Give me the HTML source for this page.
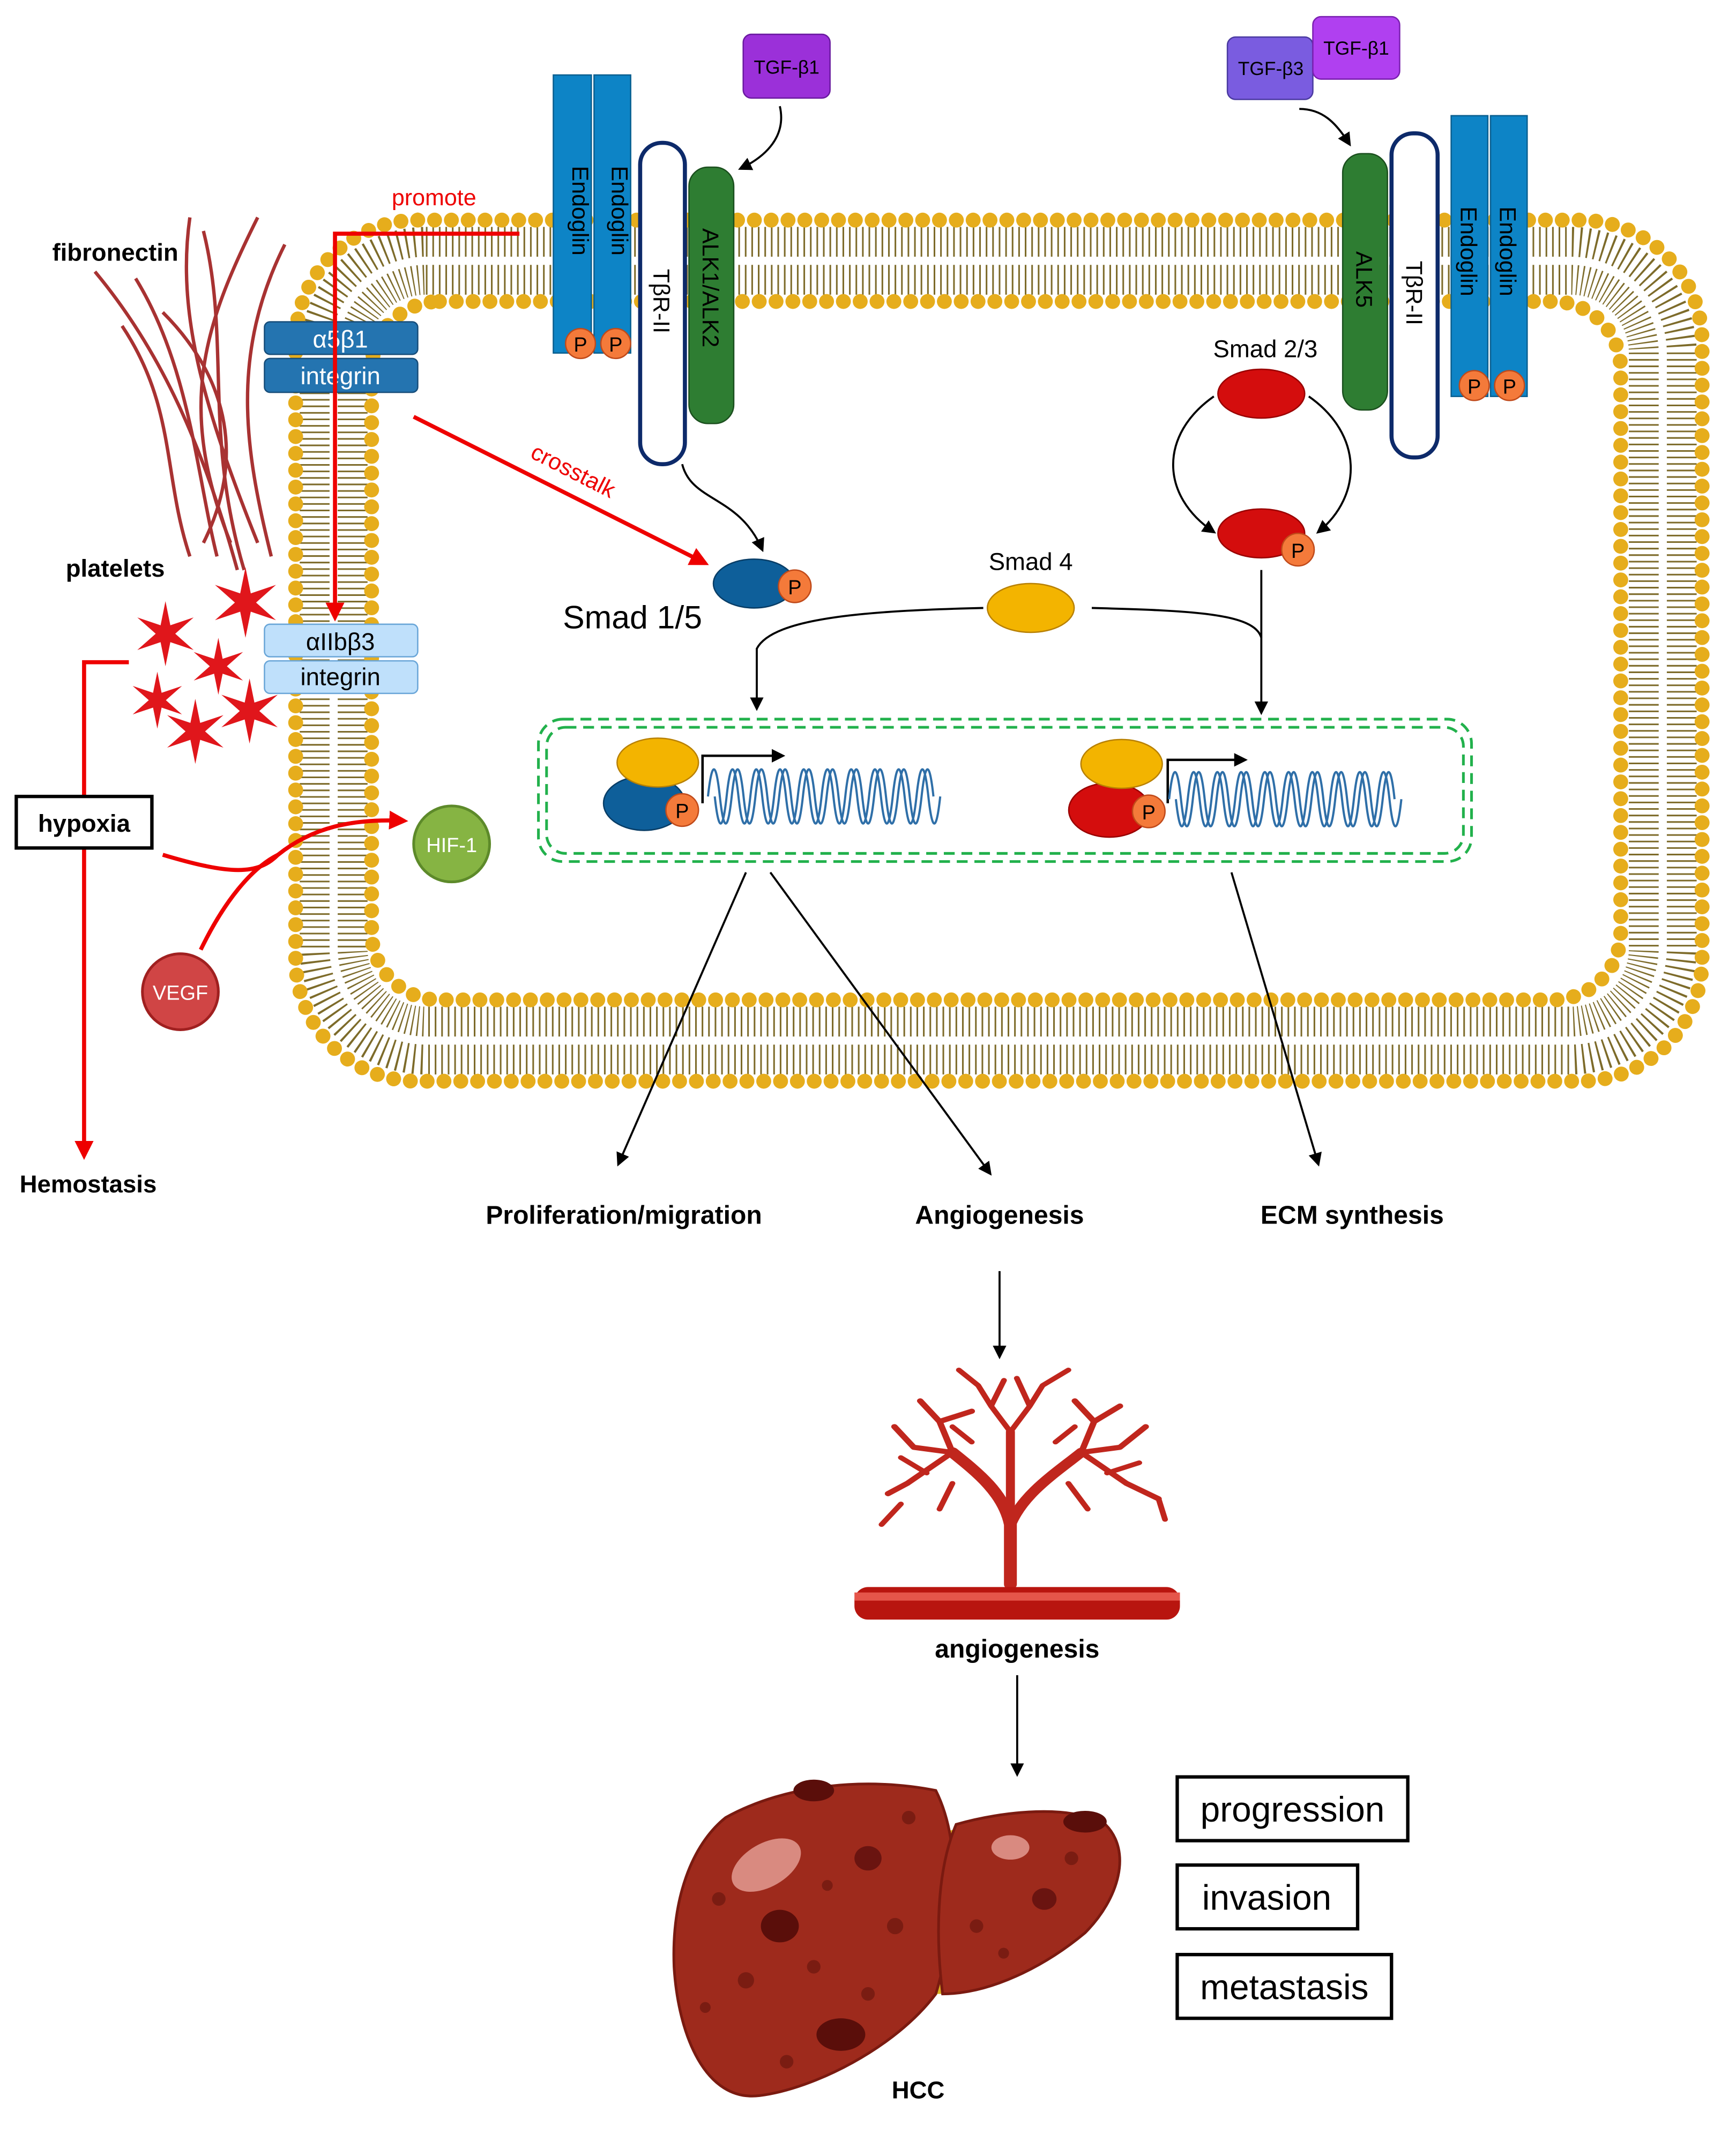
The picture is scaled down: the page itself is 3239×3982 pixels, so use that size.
<!DOCTYPE html>
<html><head><meta charset="utf-8"><style>
html,body{margin:0;padding:0;background:#fff}
svg{display:block}
text{font-family:"Liberation Sans",sans-serif}
</style></head><body>
<svg width="3239" height="3982" viewBox="0 0 1280 1573" xmlns="http://www.w3.org/2000/svg">
<defs>
<marker id="ak" markerWidth="10" markerHeight="10" refX="8" refY="5" orient="auto" markerUnits="userSpaceOnUse"><path d="M0,0 L10,5 L0,10 z" fill="#000"/></marker>
<marker id="ar" markerWidth="14" markerHeight="14" refX="11" refY="7" orient="auto" markerUnits="userSpaceOnUse"><path d="M0,0 L14,7 L0,14 z" fill="#e00"/></marker>
<symbol id="st" viewBox="-20 -20 40 40"><polygon points="0,-20 3,-5.2 17.3,-10 6,0 17.3,10 3,5.2 0,20 -3,5.2 -17.3,10 -6,0 -17.3,-10 -3,-5.2" fill="#e0161b"/></symbol>
</defs>
<rect width="1280" height="1573" fill="#fff"/>

<!-- membrane -->
<rect x="246" y="192" width="980" height="575" rx="68" fill="none" stroke="#7d6b2a" stroke-width="50" stroke-dasharray="1.2 3.6"/>
<rect x="246" y="192" width="980" height="575" rx="68" fill="none" stroke="#fff" stroke-width="6"/>
<rect x="218" y="162" width="1037" height="635" rx="90" fill="none" stroke="#e6ad1c" stroke-width="11" stroke-linecap="round" stroke-dasharray="0.01 12.4"/>
<rect x="274" y="222" width="921" height="515" rx="50" fill="none" stroke="#e6ad1c" stroke-width="11" stroke-linecap="round" stroke-dasharray="0.01 12.4"/>

<!-- fibronectin strands -->
<g fill="none" stroke="#a83232" stroke-width="2.5">
<path d="M70,200 C120,260 150,330 175,420"/>
<path d="M100,205 C140,270 145,350 160,410"/>
<path d="M140,160 C130,230 150,300 190,400"/>
<path d="M150,170 C170,250 150,320 180,420"/>
<path d="M190,160 C150,240 130,300 170,400"/>
<path d="M210,180 C170,260 180,330 200,410"/>
<path d="M120,230 C170,280 180,340 150,400"/>
<path d="M90,240 C130,300 120,350 140,410"/>
</g>
<text x="85" y="192" font-size="18" font-weight="bold" text-anchor="middle">fibronectin</text>

<!-- integrins -->
<rect x="195" y="237" width="113" height="24" rx="4" fill="#2474b0" stroke="#164d7a"/>
<rect x="195" y="264" width="113" height="25" rx="4" fill="#2474b0" stroke="#164d7a"/>
<text x="251" y="256" font-size="18" fill="#fff" text-anchor="middle">α5β1</text>
<text x="251" y="283" font-size="18" fill="#fff" text-anchor="middle">integrin</text>
<rect x="195" y="460" width="113" height="24" rx="4" fill="#bfe0fb" stroke="#6aa6d8"/>
<rect x="195" y="487" width="113" height="24" rx="4" fill="#bfe0fb" stroke="#6aa6d8"/>
<text x="251" y="479" font-size="18" text-anchor="middle">αIIbβ3</text>
<text x="251" y="505" font-size="18" text-anchor="middle">integrin</text>

<!-- promote / crosstalk -->
<path d="M383,172 L247,172 L247,455" fill="none" stroke="#e00" stroke-width="3" marker-end="url(#ar)"/>
<text x="320" y="151" font-size="17" fill="#e00" text-anchor="middle">promote</text>
<path d="M305,307 L520,415" stroke="#e00" stroke-width="3" marker-end="url(#ar)"/>
<text x="420" y="352" font-size="17" fill="#e00" text-anchor="middle" transform="rotate(27 420 352)">crosstalk</text>

<!-- platelets -->
<text x="85" y="425" font-size="18" font-weight="bold" text-anchor="middle">platelets</text>
<use href="#st" x="155" y="418" width="52" height="52"/>
<use href="#st" x="98" y="443" width="48" height="48"/>
<use href="#st" x="140" y="470" width="42" height="42"/>
<use href="#st" x="95" y="495" width="42" height="42"/>
<use href="#st" x="120" y="515" width="48" height="48"/>
<use href="#st" x="160" y="500" width="48" height="48"/>
<path d="M95,488 L62,488 L62,852" fill="none" stroke="#e00" stroke-width="3" marker-end="url(#ar)"/>
<text x="65" y="879" font-size="18" font-weight="bold" text-anchor="middle">Hemostasis</text>

<!-- hypoxia -->
<rect x="12" y="587" width="100" height="38" fill="#fff" stroke="#000" stroke-width="2.5"/>
<text x="62" y="613" font-size="18" font-weight="bold" text-anchor="middle">hypoxia</text>
<path d="M120,630 C170,645 190,645 205,630 C230,610 260,603 298,605" fill="none" stroke="#e00" stroke-width="3" marker-end="url(#ar)"/>
<path d="M148,700 C165,665 185,640 205,630" fill="none" stroke="#e00" stroke-width="3"/>
<circle cx="133" cy="731" r="28" fill="#d04545" stroke="#a02020" stroke-width="2"/>
<text x="133" y="737" font-size="15" fill="#fff" text-anchor="middle">VEGF</text>
<circle cx="333" cy="622" r="28" fill="#86b443" stroke="#5d8a2a" stroke-width="2"/>
<text x="333" y="628" font-size="15" fill="#fff" text-anchor="middle">HIF-1</text>

<!-- left receptors -->
<rect x="408" y="55" width="28" height="205" fill="#0d84c6" stroke="#0a5f90"/>
<rect x="438" y="55" width="27" height="205" fill="#0d84c6" stroke="#0a5f90"/>
<text x="422" y="122" font-size="17" transform="rotate(90 422 122)">Endoglin</text>
<text x="451" y="122" font-size="17" transform="rotate(90 451 122)">Endoglin</text>
<circle cx="428" cy="253" r="11" fill="#f47a3a" stroke="#c04a1a"/><text x="428" y="259" font-size="15" text-anchor="middle">P</text>
<circle cx="454" cy="253" r="11" fill="#f47a3a" stroke="#c04a1a"/><text x="454" y="259" font-size="15" text-anchor="middle">P</text>
<rect x="472" y="105" width="33" height="237" rx="16" fill="#fff" stroke="#0d2a6a" stroke-width="3"/>
<text x="482" y="198" font-size="17" transform="rotate(90 482 198)">TβR-II</text>
<rect x="508" y="123" width="33" height="189" rx="14" fill="#2e7d32" stroke="#1b4f1e"/>
<text x="518" y="168" font-size="17" transform="rotate(90 518 168)">ALK1/ALK2</text>
<rect x="548" y="25" width="64" height="47" rx="6" fill="#9b30d9" stroke="#6a1aa0"/>
<text x="580" y="54" font-size="14" text-anchor="middle">TGF-β1</text>
<path d="M575,78 C580,100 565,115 546,124" fill="none" stroke="#000" stroke-width="1.5" marker-end="url(#ak)"/>
<path d="M503,342 C510,370 545,365 562,405" fill="none" stroke="#000" stroke-width="1.5" marker-end="url(#ak)"/>

<!-- right receptors -->
<rect x="905" y="27" width="63" height="46" rx="6" fill="#7a5ce0" stroke="#4a3aa0"/>
<text x="937" y="55" font-size="14" text-anchor="middle">TGF-β3</text>
<rect x="968" y="12" width="64" height="46" rx="6" fill="#b040f0" stroke="#7a20b0"/>
<text x="1000" y="40" font-size="14" text-anchor="middle">TGF-β1</text>
<path d="M958,80 C975,80 985,90 995,106" fill="none" stroke="#000" stroke-width="1.5" marker-end="url(#ak)"/>
<rect x="990" y="113" width="33" height="189" rx="14" fill="#2e7d32" stroke="#1b4f1e"/>
<text x="1000" y="185" font-size="17" transform="rotate(90 1000 185)">ALK5</text>
<rect x="1026" y="98" width="34" height="239" rx="16" fill="#fff" stroke="#0d2a6a" stroke-width="3"/>
<text x="1037" y="192" font-size="17" transform="rotate(90 1037 192)">TβR-II</text>
<rect x="1070" y="85" width="27" height="207" fill="#0d84c6" stroke="#0a5f90"/>
<rect x="1099" y="85" width="27" height="207" fill="#0d84c6" stroke="#0a5f90"/>
<text x="1077" y="152" font-size="17" transform="rotate(90 1077 152)">Endoglin</text>
<text x="1106" y="152" font-size="17" transform="rotate(90 1106 152)">Endoglin</text>
<circle cx="1087" cy="284" r="11" fill="#f47a3a" stroke="#c04a1a"/><text x="1087" y="290" font-size="15" text-anchor="middle">P</text>
<circle cx="1113" cy="284" r="11" fill="#f47a3a" stroke="#c04a1a"/><text x="1113" y="290" font-size="15" text-anchor="middle">P</text>

<!-- Smads -->
<text x="933" y="263" font-size="18" text-anchor="middle">Smad 2/3</text>
<ellipse cx="930" cy="290" rx="32" ry="18" fill="#d40d0d" stroke="#900"/>
<ellipse cx="930" cy="393" rx="32" ry="18" fill="#d40d0d" stroke="#900"/>
<circle cx="957" cy="405" r="12" fill="#f47a3a" stroke="#c04a1a"/><text x="957" y="411" font-size="15" text-anchor="middle">P</text>
<path d="M895,292 C855,320 855,365 895,392" fill="none" stroke="#000" stroke-width="1.5" marker-end="url(#ak)"/>
<path d="M965,292 C1005,320 1005,365 972,392" fill="none" stroke="#000" stroke-width="1.5" marker-end="url(#ak)"/>
<ellipse cx="556" cy="430" rx="30" ry="18" fill="#0e5f9a" stroke="#083d66"/>
<circle cx="586" cy="432" r="12" fill="#f47a3a" stroke="#c04a1a"/><text x="586" y="438" font-size="15" text-anchor="middle">P</text>
<text x="415" y="463" font-size="24">Smad 1/5</text>
<text x="760" y="420" font-size="18" text-anchor="middle">Smad 4</text>
<ellipse cx="760" cy="448" rx="32" ry="18" fill="#f3b400" stroke="#b88000"/>
<path d="M725,448 C640,450 570,455 558,478 L558,522" fill="none" stroke="#000" stroke-width="1.5" marker-end="url(#ak)"/>
<path d="M805,448 C880,450 925,452 930,470" fill="none" stroke="#000" stroke-width="1.5"/>
<path d="M930,420 L930,525" fill="none" stroke="#000" stroke-width="1.5" marker-end="url(#ak)"/>

<!-- nucleus box -->
<rect x="397" y="530" width="688" height="105" rx="18" fill="none" stroke="#22b14c" stroke-width="2" stroke-dasharray="8 5"/>
<rect x="403" y="536" width="676" height="93" rx="14" fill="none" stroke="#22b14c" stroke-width="2" stroke-dasharray="8 5"/>
<ellipse cx="475" cy="592" rx="30" ry="20" fill="#0e5f9a" stroke="#083d66"/>
<ellipse cx="485" cy="562" rx="30" ry="18" fill="#f3b400" stroke="#b88000"/>
<circle cx="503" cy="597" r="12" fill="#f47a3a" stroke="#c04a1a"/><text x="503" y="603" font-size="15" text-anchor="middle">P</text>
<path d="M518,592 L518,557 L577,557" fill="none" stroke="#000" stroke-width="1.8" marker-end="url(#ak)"/>
<ellipse cx="818" cy="597" rx="30" ry="20" fill="#d40d0d" stroke="#900"/>
<ellipse cx="827" cy="563" rx="30" ry="18" fill="#f3b400" stroke="#b88000"/>
<circle cx="847" cy="598" r="12" fill="#f47a3a" stroke="#c04a1a"/><text x="847" y="604" font-size="15" text-anchor="middle">P</text>
<path d="M861,592 L861,560 L918,560" fill="none" stroke="#000" stroke-width="1.8" marker-end="url(#ak)"/>
<g fill="none" stroke="#2f6fa8" stroke-width="1.6">
<path d="M522,587 q4.4,-40 8.75,0 t8.75,0 t8.75,0 t8.75,0 t8.75,0 t8.75,0 t8.75,0 t8.75,0 t8.75,0 t8.75,0 t8.75,0 t8.75,0 t8.75,0 t8.75,0 t8.75,0 t8.75,0 t8.75,0 t8.75,0 t8.75,0"/>
<path d="M527,587 q4.4,40 8.75,0 t8.75,0 t8.75,0 t8.75,0 t8.75,0 t8.75,0 t8.75,0 t8.75,0 t8.75,0 t8.75,0 t8.75,0 t8.75,0 t8.75,0 t8.75,0 t8.75,0 t8.75,0 t8.75,0 t8.75,0 t8.75,0"/>
<path d="M862,589 q4.4,-40 8.75,0 t8.75,0 t8.75,0 t8.75,0 t8.75,0 t8.75,0 t8.75,0 t8.75,0 t8.75,0 t8.75,0 t8.75,0 t8.75,0 t8.75,0 t8.75,0 t8.75,0 t8.75,0 t8.75,0 t8.75,0 t8.75,0"/>
<path d="M867,589 q4.4,40 8.75,0 t8.75,0 t8.75,0 t8.75,0 t8.75,0 t8.75,0 t8.75,0 t8.75,0 t8.75,0 t8.75,0 t8.75,0 t8.75,0 t8.75,0 t8.75,0 t8.75,0 t8.75,0 t8.75,0 t8.75,0 t8.75,0"/>
</g>

<!-- outputs -->
<g stroke="#000" stroke-width="1.5" fill="none">
<path d="M550,643 L456,858" marker-end="url(#ak)"/>
<path d="M568,643 L730,865" marker-end="url(#ak)"/>
<path d="M908,643 L972,858" marker-end="url(#ak)"/>
<path d="M737,937 L737,1000" marker-end="url(#ak)"/>
<path d="M750,1235 L750,1308" marker-end="url(#ak)"/>
</g>
<text x="460" y="902" font-size="19" font-weight="bold" text-anchor="middle">Proliferation/migration</text>
<text x="737" y="902" font-size="19" font-weight="bold" text-anchor="middle">Angiogenesis</text>
<text x="997" y="902" font-size="19" font-weight="bold" text-anchor="middle">ECM synthesis</text>

<!-- tree -->
<g transform="translate(745,1168) scale(0.95,0.76) translate(-745,-1168)">
<g fill="none" stroke="#c0261d" stroke-linecap="round">
<path d="M745,1168 L745,1110 C740,1080 720,1060 700,1040" stroke-width="10"/>
<path d="M745,1110 C755,1080 780,1060 800,1040" stroke-width="9"/>
<path d="M745,1120 L745,1020" stroke-width="7"/>
<path d="M700,1040 L670,1035 M700,1040 L690,1010 M700,1040 L665,1070 M690,1010 L675,990 M690,1010 L715,1000 M665,1070 L650,1080 M670,1035 L655,1015" stroke-width="5"/>
<path d="M800,1040 L830,1035 M800,1040 L810,1010 M800,1040 L835,1070 M810,1010 L795,990 M810,1010 L830,995 M835,1070 L860,1085 M830,1035 L850,1015" stroke-width="5"/>
<path d="M745,1020 L730,995 L720,975 M745,1020 L760,995 L770,975 M730,995 L740,970 M760,995 L750,968 M720,975 L705,960 M770,975 L790,960" stroke-width="4.5"/>
<path d="M660,1090 L645,1110 M860,1085 L865,1105 M700,1070 L690,1095 M790,1070 L805,1095 M680,1060 L660,1045 M820,1060 L845,1050 M715,1030 L700,1015 M780,1030 L795,1015" stroke-width="4.5"/>
</g>
</g>
<rect x="630" y="1170" width="240" height="24" rx="10" fill="#b8150f"/>
<rect x="630" y="1174" width="240" height="6" fill="#e5554a"/>
<text x="750" y="1222" font-size="19" font-weight="bold" text-anchor="middle">angiogenesis</text>

<!-- liver -->
<path d="M670,1355 C700,1350 705,1430 690,1470 L700,1470 C695,1420 700,1360 725,1345 Z" fill="#d9b020"/>
<path d="M535,1340 C580,1315 640,1310 690,1320 C710,1360 705,1420 690,1470 C660,1510 600,1540 560,1545 C520,1550 500,1500 497,1450 C495,1400 510,1360 535,1340 Z" fill="#9e2a1c" stroke="#7a1a10" stroke-width="2"/>
<path d="M705,1345 C740,1335 790,1330 815,1345 C835,1365 825,1400 800,1425 C770,1450 730,1470 695,1470 C690,1430 690,1380 705,1345 Z" fill="#9e2a1c" stroke="#7a1a10" stroke-width="2"/>
<ellipse cx="600" cy="1320" rx="15" ry="8" fill="#5a0e0a"/>
<ellipse cx="800" cy="1343" rx="16" ry="8" fill="#5a0e0a"/>
<ellipse cx="565" cy="1375" rx="28" ry="16" fill="#d98a80" transform="rotate(-30 565 1375)"/>
<ellipse cx="745" cy="1362" rx="14" ry="9" fill="#d98a80"/>
<ellipse cx="575" cy="1420" rx="14" ry="12" fill="#5a0e0a"/>
<ellipse cx="620" cy="1500" rx="18" ry="12" fill="#5a0e0a"/>
<ellipse cx="640" cy="1370" rx="10" ry="9" fill="#6a1410"/>
<ellipse cx="770" cy="1400" rx="9" ry="8" fill="#6a1410"/>
<g fill="#7a1c12">
<circle cx="530" cy="1400" r="5"/><circle cx="550" cy="1460" r="6"/><circle cx="600" cy="1450" r="5"/><circle cx="660" cy="1420" r="6"/><circle cx="640" cy="1470" r="5"/><circle cx="580" cy="1520" r="5"/><circle cx="520" cy="1480" r="4"/><circle cx="670" cy="1340" r="5"/><circle cx="720" cy="1420" r="5"/><circle cx="790" cy="1370" r="5"/><circle cx="740" cy="1440" r="4"/><circle cx="610" cy="1390" r="4"/>
</g>
<text x="677" y="1547" font-size="18" font-weight="bold" text-anchor="middle">HCC</text>

<!-- boxes -->
<rect x="868" y="1310" width="170" height="47" fill="#fff" stroke="#000" stroke-width="2.5"/>
<text x="953" y="1343" font-size="26" text-anchor="middle">progression</text>
<rect x="868" y="1375" width="133" height="47" fill="#fff" stroke="#000" stroke-width="2.5"/>
<text x="934" y="1408" font-size="26" text-anchor="middle">invasion</text>
<rect x="868" y="1441" width="158" height="47" fill="#fff" stroke="#000" stroke-width="2.5"/>
<text x="947" y="1474" font-size="26" text-anchor="middle">metastasis</text>
</svg>
</body></html>
